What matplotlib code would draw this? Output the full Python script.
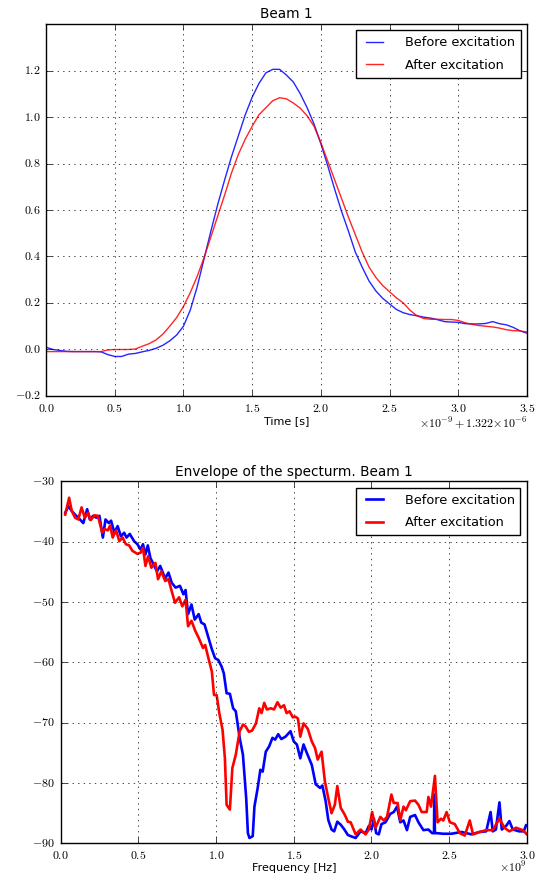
"""
Beam 1: bunch profile before/after excitation and envelope of its spectrum
"""

import matplotlib
matplotlib.use("Agg")
import matplotlib.pyplot as plt
from matplotlib.ticker import FuncFormatter
import numpy as np


# Time axis (ns, relative to the 1.322e-6 s offset)
t_ns = [0.00, 0.05, 0.10, 0.15, 0.20, 0.25, 0.30, 0.35, 0.40, 0.45,
        0.50, 0.55, 0.60, 0.65, 0.70, 0.75, 0.80, 0.85, 0.90, 0.95,
        1.00, 1.05, 1.10, 1.15, 1.20, 1.25, 1.30, 1.35, 1.40, 1.45,
        1.50, 1.55, 1.60, 1.65, 1.70, 1.75, 1.80, 1.85, 1.90, 1.95,
        2.00, 2.05, 2.10, 2.15, 2.20, 2.25, 2.30, 2.35, 2.40, 2.45,
        2.50, 2.55, 2.60, 2.65, 2.70, 2.75, 2.80, 2.85, 2.90, 2.95,
        3.00, 3.05, 3.10, 3.15, 3.20, 3.25, 3.30, 3.35, 3.40, 3.45, 3.50]

profile_before = [0.010, 0.000, -0.004, -0.008, -0.009, -0.009, -0.009, -0.009, -0.010, -0.022,
                  -0.030, -0.030, -0.020, -0.017, -0.010, -0.004, 0.005, 0.018, 0.037, 0.062,
                  0.100, 0.170, 0.270, 0.390, 0.510, 0.625, 0.730, 0.830, 0.920, 1.010,
                  1.085, 1.145, 1.190, 1.205, 1.205, 1.180, 1.150, 1.100, 1.040, 0.970,
                  0.885, 0.790, 0.690, 0.595, 0.510, 0.420, 0.355, 0.295, 0.252, 0.220,
                  0.196, 0.172, 0.158, 0.150, 0.145, 0.139, 0.135, 0.128, 0.120, 0.118,
                  0.117, 0.111, 0.110, 0.110, 0.112, 0.120, 0.111, 0.106, 0.095, 0.080, 0.070]

profile_after = [-0.009, -0.009, -0.009, -0.009, -0.009, -0.009, -0.009, -0.009, -0.009, -0.002,
                 0.000, 0.000, 0.000, 0.002, 0.014, 0.025, 0.041, 0.066, 0.100, 0.137,
                 0.185, 0.245, 0.315, 0.395, 0.485, 0.575, 0.665, 0.760, 0.840, 0.905,
                 0.960, 1.010, 1.040, 1.070, 1.083, 1.078, 1.060, 1.038, 1.005, 0.960,
                 0.890, 0.810, 0.730, 0.650, 0.570, 0.495, 0.420, 0.355, 0.310, 0.275,
                 0.248, 0.222, 0.200, 0.168, 0.145, 0.133, 0.130, 0.130, 0.129, 0.129,
                 0.125, 0.115, 0.108, 0.103, 0.100, 0.097, 0.092, 0.085, 0.081, 0.080, 0.075]

# Spectrum envelope (frequency in GHz, amplitude in dB)
freq_before = [0.030, 0.050, 0.072, 0.093, 0.114, 0.146, 0.171, 0.188, 0.209, 0.230,
               0.250, 0.272, 0.289, 0.310, 0.325, 0.346, 0.367, 0.388, 0.409, 0.424,
               0.445, 0.473, 0.494, 0.515, 0.530, 0.546, 0.561, 0.578, 0.599, 0.620,
               0.641, 0.673, 0.694, 0.715, 0.740, 0.768, 0.790, 0.804, 0.820, 0.842,
               0.863, 0.888, 0.905, 0.926, 0.951, 0.973, 0.994, 1.015, 1.036, 1.050,
               1.068, 1.089, 1.110, 1.127, 1.152, 1.173, 1.194, 1.205, 1.215, 1.236,
               1.247, 1.268, 1.285, 1.300, 1.320, 1.342, 1.363, 1.380, 1.400, 1.420,
               1.447, 1.479, 1.500, 1.520, 1.542, 1.563, 1.584, 1.616, 1.641, 1.669,
               1.684, 1.705, 1.722, 1.743, 1.760, 1.780, 1.802, 1.823, 1.848, 1.866,
               1.898, 1.930, 1.962, 1.983, 2.000, 2.015, 2.030, 2.047, 2.064, 2.090,
               2.121, 2.143, 2.164, 2.185, 2.206, 2.228, 2.249, 2.280, 2.302, 2.334,
               2.366, 2.390, 2.402, 2.404, 2.408, 2.420, 2.462, 2.515, 2.579, 2.643,
               2.696, 2.738, 2.766, 2.780, 2.800, 2.823, 2.838, 2.866, 2.887, 2.909,
               2.950, 2.979, 2.994]
amp_before = [-35.2, -34.1, -34.9, -35.5, -36.0, -36.9, -34.6, -36.3, -35.7, -36.0,
              -35.7, -39.3, -36.3, -36.9, -36.5, -38.5, -37.4, -39.1, -38.5, -39.3,
              -38.7, -39.9, -40.4, -41.3, -40.4, -42.1, -40.6, -42.7, -43.8, -44.9,
              -44.0, -46.1, -45.1, -46.8, -47.6, -47.3, -48.7, -48.0, -52.0, -50.4,
              -52.9, -52.0, -53.4, -53.7, -55.9, -57.8, -59.3, -59.6, -60.7, -61.8,
              -65.1, -65.2, -67.6, -68.1, -72.5, -75.3, -82.5, -88.3, -89.1, -88.8,
              -83.9, -80.8, -77.8, -78.1, -74.8, -73.9, -72.5, -72.8, -71.9, -72.7,
              -72.3, -71.4, -73.1, -73.6, -75.9, -73.6, -75.0, -77.0, -80.2, -80.8,
              -80.4, -83.0, -86.1, -87.7, -88.0, -86.4, -86.9, -87.6, -88.6, -88.8,
              -89.1, -88.0, -88.3, -87.1, -87.7, -85.9, -88.3, -88.5, -86.8, -86.5,
              -85.1, -84.8, -83.9, -86.5, -86.2, -87.8, -85.6, -85.3, -86.5, -87.8,
              -87.7, -88.3, -88.3, -81.9, -88.3, -88.3, -88.4, -88.4, -88.1, -88.5,
              -88.1, -88.0, -84.8, -88.0, -87.7, -83.2, -87.7, -87.1, -86.3, -87.7,
              -88.0, -88.0, -87.0]

freq_after = [0.030, 0.055, 0.072, 0.093, 0.114, 0.135, 0.156, 0.177, 0.194, 0.219,
              0.240, 0.268, 0.283, 0.304, 0.319, 0.335, 0.357, 0.378, 0.399, 0.420,
              0.441, 0.462, 0.494, 0.515, 0.530, 0.546, 0.563, 0.584, 0.610, 0.627,
              0.648, 0.673, 0.694, 0.715, 0.736, 0.762, 0.783, 0.804, 0.820, 0.842,
              0.867, 0.888, 0.916, 0.930, 0.951, 0.973, 0.987, 1.004, 1.021, 1.042,
              1.057, 1.068, 1.089, 1.105, 1.127, 1.152, 1.173, 1.190, 1.211, 1.232,
              1.257, 1.278, 1.293, 1.310, 1.327, 1.352, 1.373, 1.395, 1.416, 1.437,
              1.454, 1.473, 1.494, 1.510, 1.527, 1.542, 1.563, 1.590, 1.616, 1.637,
              1.654, 1.679, 1.700, 1.722, 1.743, 1.764, 1.780, 1.802, 1.827, 1.848,
              1.866, 1.898, 1.930, 1.962, 1.983, 2.004, 2.026, 2.057, 2.079, 2.100,
              2.128, 2.143, 2.168, 2.185, 2.206, 2.221, 2.249, 2.280, 2.302, 2.323,
              2.355, 2.366, 2.383, 2.408, 2.425, 2.447, 2.462, 2.483, 2.504, 2.536,
              2.568, 2.600, 2.632, 2.653, 2.696, 2.738, 2.780, 2.823, 2.855, 2.887,
              2.930, 2.972, 3.000]
amp_after = [-35.5, -32.7, -34.9, -36.0, -36.3, -34.3, -36.0, -35.2, -36.4, -35.6,
             -35.7, -38.5, -37.9, -38.1, -37.3, -39.3, -38.1, -39.9, -39.3, -40.4,
             -40.6, -41.5, -42.0, -41.8, -41.0, -44.0, -42.4, -44.3, -43.5, -46.2,
             -44.9, -46.5, -46.2, -48.2, -50.1, -49.2, -50.7, -49.6, -54.0, -53.1,
             -54.8, -55.9, -57.6, -57.1, -59.3, -61.5, -65.4, -65.4, -68.4, -71.2,
             -75.9, -83.6, -84.4, -77.5, -75.3, -71.4, -70.3, -70.6, -71.5, -71.3,
             -70.1, -67.6, -68.4, -66.7, -67.8, -67.6, -67.8, -66.6, -67.5, -67.1,
             -68.4, -68.1, -69.1, -69.0, -69.3, -72.3, -70.1, -71.0, -73.1, -74.2,
             -76.1, -74.8, -79.7, -82.5, -85.0, -83.6, -80.5, -84.1, -85.2, -86.4,
             -86.5, -88.5, -87.7, -88.5, -87.7, -84.8, -87.4, -85.6, -86.2, -85.6,
             -81.9, -83.3, -83.3, -86.2, -83.9, -84.5, -83.0, -82.9, -83.6, -84.8,
             -84.8, -82.3, -83.9, -78.8, -86.5, -85.9, -86.2, -84.8, -86.5, -86.8,
             -88.3, -88.7, -86.2, -88.5, -88.1, -87.8, -87.8, -85.9, -87.4, -88.0,
             -87.4, -87.8, -88.5]

series_labels = ["Before excitation", "After excitation"]


def _math_fmt(decimals, scale=1.0):
    def fmt(v, pos):
        v = v / scale
        if abs(v) < 1e-9:
            v = 0.0
        return "$%.*f$" % (decimals, v)
    return FuncFormatter(fmt)


plt.style.use("classic")
plt.rcParams["mathtext.fontset"] = "cm"
plt.rcParams["font.family"] = ["DejaVu Sans"]

fig = plt.figure(figsize=(5.37, 8.73), dpi=100, facecolor="white")
legend_kw = dict(loc="upper right", fontsize=9.3, handletextpad=1.4,
                 labelspacing=0.75, borderpad=0.45, handlelength=1.9)

# --- Beam profile ---
ax1 = fig.add_axes([0.0857, 0.5464, 0.8957, 0.4261])
ax1.plot(t_ns, profile_before, color="b", lw=1.0, alpha=0.85, label=series_labels[0])
ax1.plot(t_ns, profile_after, color="r", lw=1.0, alpha=0.85, label=series_labels[1])
ax1.set_xlim(0, 3.5)
ax1.set_ylim(-0.2, 1.4)
ax1.set_xticks([0.0, 0.5, 1.0, 1.5, 2.0, 2.5, 3.0, 3.5])
ax1.set_yticks([-0.2, 0.0, 0.2, 0.4, 0.6, 0.8, 1.0, 1.2])
ax1.xaxis.set_major_formatter(_math_fmt(1))
ax1.yaxis.set_major_formatter(_math_fmt(1))
ax1.tick_params(labelsize=8.6)
ax1.grid(True)
ax1.set_title("Beam 1", fontsize=9.8, pad=4)
ax1.set_xlabel("Time [s]", fontsize=8, labelpad=1)
ax1.text(1.0, -0.052, r"$\times10^{-9} + 1.322{\times}10^{-6}$", transform=ax1.transAxes,
         ha="right", va="top", fontsize=8.6)
ax1.legend(**legend_kw)

# --- Spectrum envelope ---
ax2 = fig.add_axes([0.1128, 0.0339, 0.8685, 0.4146])
ax2.plot(np.array(freq_before) * 1e9, amp_before, color="b", lw=1.9, label=series_labels[0])
ax2.plot(np.array(freq_after) * 1e9, amp_after, color="r", lw=1.9, label=series_labels[1])
ax2.set_xlim(0, 3.0e9)
ax2.set_ylim(-90, -30)
ax2.set_xticks(np.array([0.0, 0.5, 1.0, 1.5, 2.0, 2.5, 3.0]) * 1e9)
ax2.set_yticks([-90, -80, -70, -60, -50, -40, -30])
ax2.xaxis.set_major_formatter(_math_fmt(1, scale=1e9))
ax2.yaxis.set_major_formatter(_math_fmt(0))
ax2.tick_params(labelsize=8.6)
ax2.grid(True)
ax2.set_title("Envelope of the specturm. Beam 1", fontsize=9.8, pad=4)
ax2.set_xlabel("Frequency [Hz]", fontsize=8, labelpad=1)
ax2.text(1.0, -0.045, r"$\times10^{9}$", transform=ax2.transAxes,
         ha="right", va="top", fontsize=8.6)
ax2.legend(**legend_kw)

fig.savefig("out.png", dpi=100, facecolor="white")
